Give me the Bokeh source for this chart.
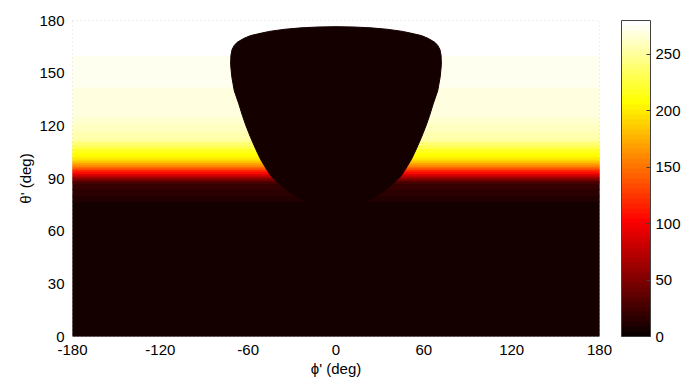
from bokeh.plotting import figure
from bokeh.models import LinearColorMapper, ColorBar, FixedTicker, ColumnDataSource
from bokeh.embed import file_html
from bokeh.resources import INLINE

# ---- data ----
band_lo = [0, 77, 80, 84, 87, 88, 89, 90, 91, 92, 93, 94, 95, 96, 97, 98, 99, 100, 101, 102,
           103, 105, 107, 109, 111, 113, 117, 121, 125, 133, 142, 160]
band_hi = [77, 80, 84, 87, 88, 89, 90, 91, 92, 93, 94, 95, 96, 97, 98, 99, 100, 101, 102, 103,
           105, 107, 109, 111, 113, 117, 121, 125, 133, 142, 160, 180]
band_val = [5, 12, 15, 18, 24, 32, 45, 60, 75, 90, 105, 118, 132, 146, 158, 170, 180, 190, 198,
            204, 209, 216, 228, 240, 250, 258, 262, 264, 267, 271, 275, 278]

shadow_phi = [0, -6, -12, -19.7, -26, -33.3, -39, -44.7, -48, -51.6, -55, -58.4, -61.5, -64,
              -66.4, -69.5, -71.2, -72, -71.8, -71, -69.5, -67.5, -63, -58.4, -50, -44.7, -35,
              -24, -12, 0,
              12, 24, 35, 44.7, 50, 58.4, 63, 67.5, 69.5, 71, 71.8, 72, 71.2, 69.5, 66.4, 64,
              61.5, 58.4, 55, 51.6, 48, 44.7, 39, 33.3, 26, 19.7, 12, 6]
shadow_theta = [73.3, 73.6, 74.6, 76.5, 79.3, 83.1, 87, 91.7, 96, 101, 107, 113.5, 120, 126,
                132.5, 140, 148, 155, 160, 163.5, 165.8, 167.6, 169.8, 171.4, 173, 173.9, 175,
                175.8, 176.3, 176.5,
                176.3, 175.8, 175, 173.9, 173, 171.4, 169.8, 167.6, 165.8, 163.5, 160, 155, 148,
                140, 132.5, 126, 120, 113.5, 107, 101, 96, 91.7, 87, 83.1, 79.3, 76.5, 74.6, 73.6]
shadow_val = [5]

x_ticks = [-180, -120, -60, 0, 60, 120, 180]
y_ticks = [0, 30, 60, 90, 120, 150, 180]
cbar_ticks = [0, 50, 100, 150, 200, 250]
c_low, c_high = 0, 280


def hot(m=64):
    n = int(3 * m / 8)
    cols = []
    for i in range(1, m + 1):
        r = min(i / n, 1.0)
        g = 0.0 if i <= n else min((i - n) / n, 1.0)
        b = 0.0 if i <= 2 * n else (i - 2 * n) / (m - 2 * n)
        cols.append("#%02x%02x%02x" % (round(r * 255), round(g * 255), round(b * 255)))
    return cols


palette = hot(64)
mapper = LinearColorMapper(palette=palette, low=c_low, high=c_high)

FONT = "Liberation Sans"

p = figure(width=684, height=379, x_range=(x_ticks[0], x_ticks[-1]),
           y_range=(y_ticks[0], y_ticks[-1]), output_backend="svg", toolbar_location=None,
           min_border_left=72, min_border_right=85, min_border_top=20, min_border_bottom=43)

src = ColumnDataSource(dict(lo=band_lo, hi=band_hi, val=band_val))
p.quad(left=x_ticks[0], right=x_ticks[-1], bottom="lo", top="hi", source=src,
       fill_color={"field": "val", "transform": mapper},
       line_color={"field": "val", "transform": mapper}, line_width=1)

ssrc = ColumnDataSource(dict(xs=[shadow_phi], ys=[shadow_theta], val=shadow_val))
p.patches(xs="xs", ys="ys", source=ssrc,
          fill_color={"field": "val", "transform": mapper},
          line_color={"field": "val", "transform": mapper}, line_width=1)

p.xgrid.visible = False
p.ygrid.visible = False
p.outline_line_color = "#b0b0b0"
p.outline_line_dash = "1 3"

for ax in (p.xaxis[0], p.yaxis[0]):
    ax.axis_line_color = None
    ax.major_tick_line_color = None
    ax.minor_tick_line_color = None
    ax.major_label_text_font = FONT
    ax.major_label_text_font_size = "15px"
    ax.major_label_text_color = "black"
    ax.axis_label_text_font = FONT
    ax.axis_label_text_font_size = "15px"
    ax.axis_label_text_font_style = "normal"
    ax.axis_label_text_color = "black"
    ax.major_label_standoff = 2
    ax.axis_label_standoff = 2

p.xaxis[0].ticker = FixedTicker(ticks=x_ticks)
p.yaxis[0].ticker = FixedTicker(ticks=y_ticks)
p.xaxis[0].major_label_overrides = {t: str(t) for t in x_ticks}
p.yaxis[0].major_label_overrides = {t: str(t) for t in y_ticks}
p.xaxis[0].axis_label = "ϕ' (deg)"
p.yaxis[0].axis_label = "θ' (deg)"

cb = ColorBar(color_mapper=mapper, ticker=FixedTicker(ticks=cbar_ticks),
              width=29, height=316, location=(22, 0), padding=0, margin=0,
              bar_line_color="#404040", border_line_color=None, background_fill_color=None,
              major_tick_line_color="#404040", major_tick_in=4, major_tick_out=0,
              minor_tick_line_color=None, major_label_text_font=FONT,
              major_label_text_font_size="15px", major_label_text_color="black",
              label_standoff=5)
p.add_layout(cb, "right")

open("out.html", "w").write(file_html(p, INLINE))
